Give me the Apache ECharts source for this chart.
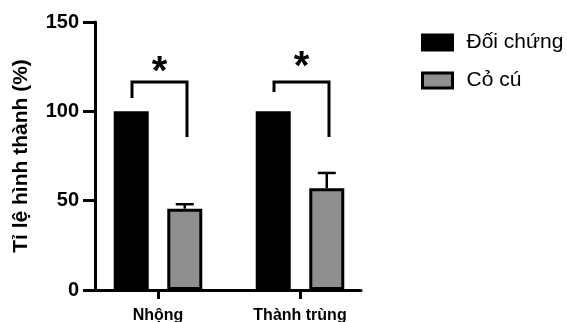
<!DOCTYPE html>
<html>
<head>
<meta charset="utf-8">
<script src="https://cdn.jsdelivr.net/npm/echarts@6/dist/echarts.min.js"></script>
<style>html,body{margin:0;padding:0;background:#fff}#c{width:567px;height:322px}</style>
</head>
<body>
<div id="c"></div>
<script>
var categories = ['Nhộng', 'Thành trùng'];
var seriesNames = ['Đối chứng', 'Cỏ cú'];
var controlValues = [100, 100];
var treatedValues = [45.5, 57];
var treatedErrorTop = [48, 65.5];
var yTicks = [0, 50, 100, 150];
// significance brackets (data units)
var bracketLeftEnd = [107.4, 110.8];
var bracketTop = [116.4, 116.4];
var bracketRightEnd = [85.6, 85.6];
var starLevel = [126, 128.7];

var FONT = 'Liberation Sans';
var chart = echarts.init(document.getElementById('c'));

var errData = categories.map(function (c, i) { return [i, treatedValues[i], treatedErrorTop[i]]; });
var brData = categories.map(function (c, i) { return [i, bracketLeftEnd[i], bracketTop[i], bracketRightEnd[i], starLevel[i]]; });

chart.setOption({
  animation: false,
  textStyle: { fontFamily: FONT, color: '#000' },
  grid: [
    { left: 87, width: 284, top: 22, height: 268, outerBoundsMode: 'none', containLabel: false },
    { left: 95, width: 266, top: 22, height: 268, outerBoundsMode: 'none', containLabel: false }
  ],
  legend: {
    orient: 'vertical',
    left: 416,
    top: 27,
    itemWidth: 30,
    itemHeight: 15,
    itemGap: 17,
    icon: 'rect',
    textStyle: { fontFamily: FONT, fontSize: 21, color: '#000', padding: [0, 0, 0, 9] },
    data: [
      { name: seriesNames[0], itemStyle: { color: '#000', borderColor: '#000', borderWidth: 3 } },
      { name: seriesNames[1], itemStyle: { color: '#8f8f8f', borderColor: '#000', borderWidth: 3 } }
    ]
  },
  xAxis: [
    {
      type: 'category', gridIndex: 0, data: categories,
      axisLine: { show: false },
      axisTick: { show: true, alignWithLabel: true, length: 9, lineStyle: { color: '#000', width: 3 } },
      axisLabel: { fontFamily: FONT, fontWeight: 'bold', fontSize: 16, color: '#000', margin: 18 },
      splitLine: { show: false }
    },
    {
      type: 'value', gridIndex: 1, min: 0, max: 1,
      axisLine: { show: true, lineStyle: { color: '#000', width: 3 } },
      axisTick: { show: false }, axisLabel: { show: false }, splitLine: { show: false }
    }
  ],
  yAxis: [
    { type: 'value', gridIndex: 0, min: yTicks[0], max: yTicks[yTicks.length - 1], interval: 50, show: false },
    {
      type: 'value', gridIndex: 1, min: yTicks[0], max: yTicks[yTicks.length - 1], interval: 50,
      name: 'Tỉ lệ hình thành (%)', nameLocation: 'middle', nameGap: 63,
      nameTextStyle: { fontFamily: FONT, fontWeight: 'bold', fontSize: 21, color: '#000' },
      axisLine: { show: true, lineStyle: { color: '#000', width: 3 } },
      axisTick: { show: true, length: 12, lineStyle: { color: '#000', width: 3 } },
      axisLabel: { fontFamily: FONT, fontWeight: 'bold', fontSize: 20, color: '#000', margin: 16 },
      splitLine: { show: false }
    }
  ],
  series: [
    {
      name: seriesNames[0], type: 'bar', xAxisIndex: 0, yAxisIndex: 0,
      data: controlValues, barWidth: 35, barGap: '53%',
      itemStyle: { color: '#000', borderColor: '#000', borderWidth: 3 }
    },
    {
      name: seriesNames[1], type: 'bar', xAxisIndex: 0, yAxisIndex: 0,
      data: treatedValues, barWidth: 35, barGap: '53%',
      itemStyle: { color: '#8f8f8f', borderColor: '#000', borderWidth: 3 }
    },
    {
      type: 'custom', xAxisIndex: 0, yAxisIndex: 0, data: errData, z: 1,
      renderItem: function (params, api) {
        var p0 = api.coord([api.value(0), api.value(1)]);
        var p1 = api.coord([api.value(0), api.value(2)]);
        var x = p0[0] + 26.75;
        return { type: 'group', children: [
          { type: 'line', shape: { x1: x, y1: p0[1], x2: x, y2: p1[1] }, style: { stroke: '#000', lineWidth: 2.5 } },
          { type: 'line', shape: { x1: x - 9, y1: p1[1], x2: x + 9, y2: p1[1] }, style: { stroke: '#000', lineWidth: 2.5 } }
        ]};
      }
    },
    {
      type: 'custom', xAxisIndex: 0, yAxisIndex: 0, data: brData, z: 5,
      renderItem: function (params, api) {
        var c = api.coord([api.value(0), 0])[0];
        var yl = api.coord([api.value(0), api.value(1)])[1];
        var yt = api.coord([api.value(0), api.value(2)])[1];
        var yr = api.coord([api.value(0), api.value(3)])[1];
        var ys = api.coord([api.value(0), api.value(4)])[1];
        var xl = c - 26, xr = c + 29;
        return { type: 'group', children: [
          { type: 'polyline', shape: { points: [[xl, yl], [xl, yt], [xr, yt], [xr, yr]] },
            style: { stroke: '#000', lineWidth: 3, fill: null, lineJoin: 'miter' } },
          { type: 'text', x: (xl + xr) / 2, y: ys + 8,
            style: { text: '*', fontFamily: FONT, fontWeight: 'bold', fontSize: 40, fill: '#000', align: 'center', verticalAlign: 'middle' } }
        ]};
      }
    }
  ]
});
</script>
</body>
</html>
